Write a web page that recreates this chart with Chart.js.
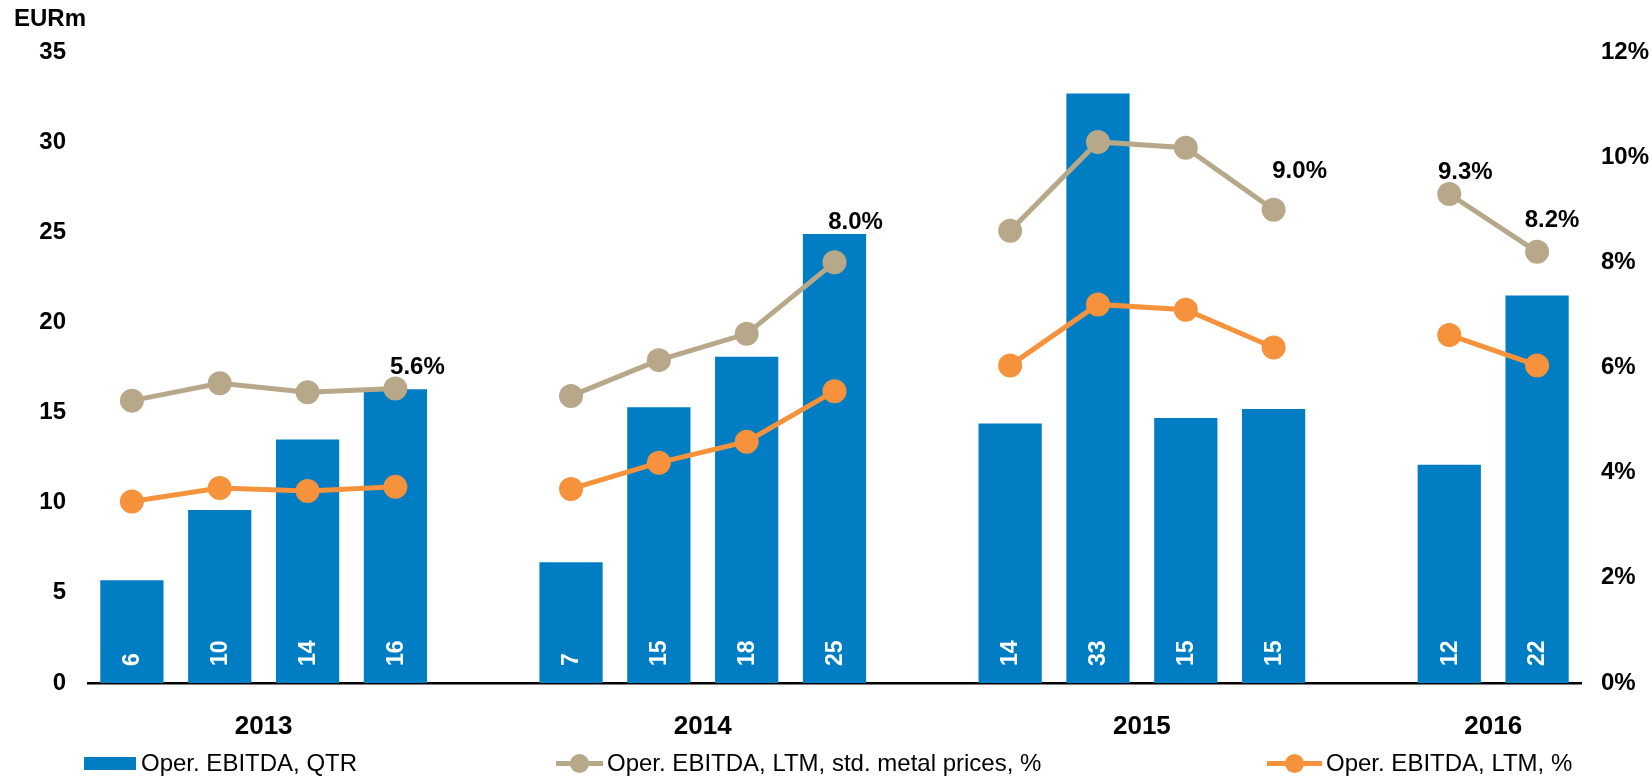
<!DOCTYPE html>
<html>
<head>
<meta charset="utf-8">
<script src="https://cdn.jsdelivr.net/npm/chart.js@4.4.0/dist/chart.umd.min.js"></script>
<style>
body{margin:0;background:#fff;font-family:"Liberation Sans",Arial,sans-serif;}
#wrap{position:relative;width:1652px;height:779px;}
#unit{position:absolute;left:14px;top:4px;font-weight:bold;font-size:24px;color:#000;}
.leg{position:absolute;top:749px;height:28px;font-size:24px;display:flex;align-items:center;color:#000;}
.box{width:52px;height:13px;margin-right:5px;}
.ln{position:relative;height:5px;margin-right:4px;}
.dot{position:absolute;top:-7px;width:19px;height:19px;border-radius:50%;}
</style>
</head>
<body>
<div id="wrap">
  <canvas id="grafico" width="1652" height="779"></canvas>
  <div id="unit">EURm</div>
  <div class="leg" style="left:84px"><div class="box" style="background:#007DC3"></div>Oper. EBITDA, QTR</div>
  <div class="leg" style="left:556px"><div class="ln" style="width:47px;background:#B8A88A"><div class="dot" style="left:14px;background:#B8A88A"></div></div>Oper. EBITDA, LTM, std. metal prices, %</div>
  <div class="leg" style="left:1267px"><div class="ln" style="width:55px;background:#F7923C"><div class="dot" style="left:18px;background:#F7923C"></div></div>Oper. EBITDA, LTM, %</div>
</div>
<script>
// quarters, with an empty slot between years
const trimestres = ['Q1 13','Q2 13','Q3 13','Q4 13','',
                    'Q1 14','Q2 14','Q3 14','Q4 14','',
                    'Q1 15','Q2 15','Q3 15','Q4 15','',
                    'Q1 16','Q2 16'];
const anos = ['2013','2014','2015','2016'];
const gruposAno = [[0,3],[5,8],[10,13],[15,16]];

const ebitdaQtr = [5.7, 9.6, 13.5, 16.3, null,
                   6.7, 15.3, 18.1, 24.9, null,
                   14.4, 32.7, 14.7, 15.2, null,
                   12.1, 21.5];
const ltmStdMetal = [5.37, 5.7, 5.53, 5.6, null,
                     5.46, 6.14, 6.64, 8.0, null,
                     8.6, 10.29, 10.18, 9.0, null,
                     9.3, 8.2];
const ltmPct = [3.45, 3.71, 3.65, 3.73, null,
                3.69, 4.19, 4.59, 5.55, null,
                6.04, 7.2, 7.1, 6.38, null,
                6.62, 6.04];

const eixoEsq = [0, 35, 5];
const eixoDir = [0, 12, 2];

// which grey points get a % label, and where the label sits
const rotulosPct = [[3, 22, -21], [8, 21, -40], [13, 26, -38], [15, 16, -22], [16, 15, -31]];

const FONTE = '"Liberation Sans", Arial, sans-serif';

const rotulos = {
    id: 'rotulos',
    afterDatasetsDraw(chart) {
        const ctx = chart.ctx;
        const barras = chart.getDatasetMeta(2).data;
        ctx.save();
        ctx.fillStyle = '#fff';
        ctx.font = 'bold 23px ' + FONTE;
        ctx.textAlign = 'left';
        ctx.textBaseline = 'middle';
        barras.forEach((b, i) => {
            if (ebitdaQtr[i] == null) return;
            ctx.save();
            ctx.translate(b.x + 1, b.base - 17);
            ctx.rotate(-Math.PI / 2);
            ctx.fillText(String(Math.round(ebitdaQtr[i])), 0, 0);
            ctx.restore();
        });

        const pontos = chart.getDatasetMeta(0).data;
        ctx.fillStyle = '#000';
        ctx.font = 'bold 24px ' + FONTE;
        ctx.textAlign = 'center';
        rotulosPct.forEach(([i, dx, dy]) => {
            const p = pontos[i];
            ctx.fillText(ltmStdMetal[i].toFixed(1) + '%', p.x + dx, p.y + dy);
        });

        const x = chart.scales.x;
        ctx.font = 'bold 26px ' + FONTE;
        gruposAno.forEach(([a, b], k) => {
            const cx = (x.getPixelForValue(a) + x.getPixelForValue(b)) / 2;
            ctx.fillText(anos[k], cx, 727);
        });
        ctx.restore();
    }
};

new Chart(document.getElementById('grafico'), {
    data: {
        labels: trimestres,
        datasets: [{
            type: 'line',
            label: 'Oper. EBITDA, LTM, std. metal prices, %',
            data: ltmStdMetal,
            yAxisID: 'yDir',
            borderColor: '#B8A88A',
            backgroundColor: '#B8A88A',
            borderWidth: 5,
            pointRadius: 9.5,
            pointHoverRadius: 9.5,
            spanGaps: false,
            order: 1
        }, {
            type: 'line',
            label: 'Oper. EBITDA, LTM, %',
            data: ltmPct,
            yAxisID: 'yDir',
            borderColor: '#F7923C',
            backgroundColor: '#F7923C',
            borderWidth: 5,
            pointRadius: 9.5,
            pointHoverRadius: 9.5,
            spanGaps: false,
            order: 2
        }, {
            type: 'bar',
            label: 'Oper. EBITDA, QTR',
            data: ebitdaQtr,
            yAxisID: 'yEsq',
            backgroundColor: '#007DC3',
            categoryPercentage: 1,
            barPercentage: 0.72,
            order: 3
        }]
    },
    options: {
        responsive: false,
        animation: false,
        layout: { padding: { top: 52, left: 0, right: 0, bottom: 0 } },
        plugins: { legend: { display: false }, tooltip: { enabled: false } },
        scales: {
            x: {
                grid: { display: false },
                ticks: { display: false },
                border: { display: true, color: '#000', width: 2.5 },
                afterFit: s => { s.height = 96; }
            },
            yEsq: {
                position: 'left',
                min: eixoEsq[0], max: eixoEsq[1],
                grid: { display: false },
                border: { display: false },
                ticks: { stepSize: eixoEsq[2], color: '#000', padding: 14, font: { family: FONTE, size: 24, weight: 'bold' } },
                afterFit: s => { s.width = 88; }
            },
            yDir: {
                position: 'right',
                min: eixoDir[0], max: eixoDir[1],
                grid: { display: false },
                border: { display: false },
                ticks: { stepSize: eixoDir[2], color: '#000', padding: 12, callback: v => v + '%', font: { family: FONTE, size: 24, weight: 'bold' } },
                afterFit: s => { s.width = 71; }
            }
        }
    },
    plugins: [rotulos]
});
</script>
</body>
</html>
